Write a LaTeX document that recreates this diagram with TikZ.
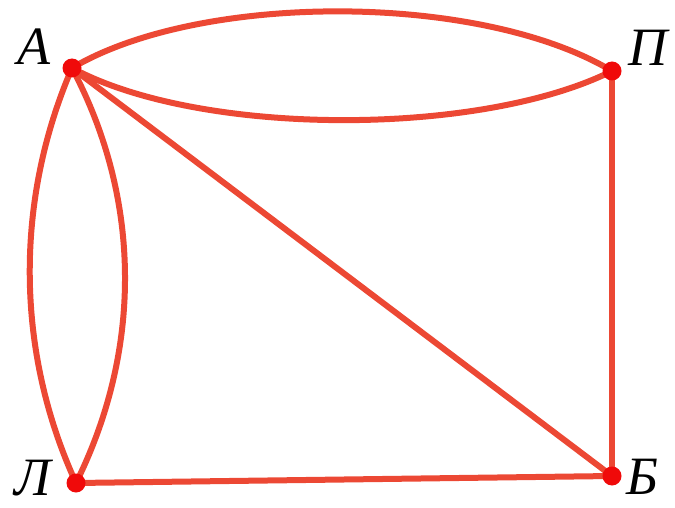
\documentclass[tikz,border=0pt]{standalone}
\usepackage{fontspec}
\setmainfont{Liberation Serif}
\definecolor{edgec}{RGB}{236,72,52}
\definecolor{dotc}{RGB}{240,10,10}
\begin{document}
\begin{tikzpicture}[x=1pt,y=-1pt,
  vtx/.style={circle,fill=dotc,inner sep=0pt,minimum size=19pt},
  lbl/.style={font=\fontsize{54}{54}\selectfont\itshape,inner sep=0pt,anchor=base},
  edge/.style={draw=edgec,line width=6pt}]
\useasboundingbox (0,0) rectangle (675,508);
\coordinate (A) at (72,68);
\coordinate (P) at (612,71);
\coordinate (L) at (76,483);
\coordinate (B) at (612,476);
\draw[edge] (A) .. controls (200,-8) and (480,-8) .. (P);
\draw[edge] (A) .. controls (200,137) and (480,137) .. (P);
\draw[edge] (A) .. controls (15,200) and (15,350) .. (L);
\draw[edge] (A) .. controls (142,200) and (142,350) .. (L);
\draw[edge] (A) -- (B);
\draw[edge] (P) -- (B);
\draw[edge] (L) -- (B);
\node[vtx] (a) at (A) {};
\node[vtx] (p) at (P) {};
\node[vtx] (l) at (L) {};
\node[vtx] (b) at (B) {};
\node[lbl] (ta) at (34,65) {А};
\node[lbl] (tp) at (648,66) {П};
\node[lbl] (tl) at (33,495) {Л};
\node[lbl] (tb) at (642,494) {Б};
\end{tikzpicture}
\end{document}
